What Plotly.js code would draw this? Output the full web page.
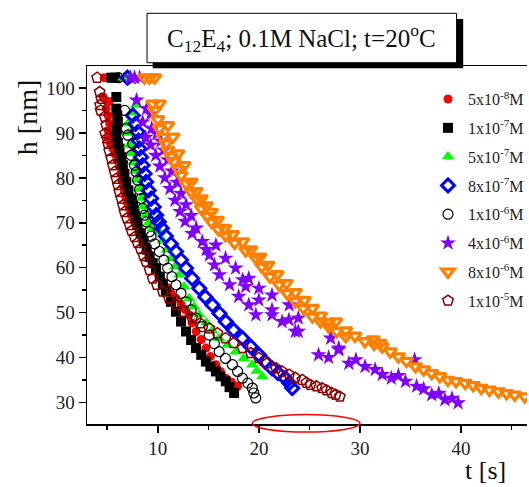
<!DOCTYPE html>
<html>
<head>
<meta charset="utf-8">
<script src="https://cdn.plot.ly/plotly-3.0.1.min.js"></script>
<style>html,body{margin:0;padding:0;background:#fff;}#chart{width:529px;height:487px;}</style>
</head>
<body>
<div id="chart"></div>
<script>
// series labels (legend)
const seriesLabels = ["5x10<sup>-8</sup>M","1x10<sup>-7</sup>M","5x10<sup>-7</sup>M","8x10<sup>-7</sup>M","1x10<sup>-6</sup>M","4x10<sup>-6</sup>M","8x10<sup>-6</sup>M","1x10<sup>-5</sup>M"];

// [t (s), h (nm)]
const c5e8 = [[4.7,102.3],[5.2,102.3],[4.6,98.0],[5.2,97.0],[4.9,95.4],[5.1,93.8],[5.24,92.1],[5.1,90.5],[5.07,89.1],[5.3,87.8],[5.56,86.5],[5.8,85.2],[6.0,83.9],[6.2,82.6],[6.35,81.0],[6.45,79.5],[6.6,78.2],[6.71,76.9],[6.85,75.6],[7.0,74.4],[7.2,73.2],[7.4,71.7],[7.7,70.2],[8.0,69.0],[8.36,68.0],[8.6,66.3],[8.9,64.6],[9.2,63.0],[9.5,61.3],[9.8,59.8],[10.1,58.3],[10.5,56.9],[10.9,55.6],[11.3,54.4],[11.8,53.2],[12.3,51.9],[12.7,50.7],[13.1,49.5],[13.4,47.7],[13.8,45.8],[14.3,44.0],[14.76,42.1],[15.2,40.2],[15.75,38.4],[16.2,36.9],[16.73,35.4],[17.3,34.5],[17.9,33.6]];
const c1e7 = [[5.4,102.3],[5.8,102.3],[5.9,98.0],[5.9,95.4],[6.0,93.9],[6.05,92.4],[5.95,90.8],[5.9,89.1],[6.05,87.8],[6.22,86.5],[6.4,84.6],[6.55,82.8],[6.7,80.9],[6.88,79.1],[7.1,77.2],[7.37,75.4],[7.55,73.9],[7.7,72.4],[7.85,71.0],[8.0,69.5],[8.3,67.6],[8.6,65.8],[8.9,64.0],[9.2,62.4],[9.5,61.0],[9.83,59.9],[10.2,58.0],[10.5,56.3],[10.8,54.7],[11.3,52.4],[11.8,50.2],[12.3,48.0],[12.79,45.8],[13.3,43.9],[13.78,42.1],[14.3,40.6],[14.76,39.1],[15.2,38.0],[15.75,36.9],[16.2,35.8],[16.73,34.7],[17.1,33.4],[17.55,32.1]];
const c5e7 = [[6.6,102.3],[6.9,102.3],[7.86,96.2],[7.6,94.5],[7.04,92.1],[7.1,90.0],[7.2,87.3],[7.4,85.5],[7.6,83.5],[7.8,81.5],[8.0,79.5],[8.2,77.5],[8.4,75.5],[8.6,73.6],[8.8,71.8],[9.1,70.0],[9.5,68.8],[10.16,68.0],[10.5,66.0],[10.9,64.0],[11.3,62.0],[11.7,60.2],[12.13,58.4],[12.6,55.8],[13.1,53.2],[13.6,51.3],[14.1,49.5],[14.8,47.8],[15.4,46.0],[16.07,44.3],[16.9,42.8],[17.7,41.3],[18.5,39.8],[19.35,38.4],[19.8,37.0],[20.34,35.8]];
const c8e7 = [[7.0,102.3],[7.53,93.9],[7.8,92.0],[8.02,90.2],[8.1,88.3],[8.19,86.5],[8.35,84.6],[8.5,82.8],[8.7,80.9],[8.85,79.1],[9.1,77.2],[9.34,75.4],[9.6,73.5],[9.84,71.7],[10.1,70.2],[10.4,68.8],[10.8,67.0],[11.3,65.3],[11.8,63.6],[12.3,61.7],[12.79,59.9],[13.4,57.6],[14.1,55.4],[14.7,53.5],[15.41,51.7],[16.1,49.8],[16.73,48.0],[17.5,46.1],[18.37,44.3],[19.2,42.4],[20.0,40.6],[20.6,39.1],[21.3,37.6],[21.9,36.5],[22.6,35.4],[23.0,34.3],[23.3,33.2]];
const c1e6 = [[6.1,102.3],[6.72,95.0],[6.88,91.0],[7.04,89.5],[7.53,87.6],[7.37,85.0],[7.7,82.8],[7.86,81.3],[8.0,79.5],[8.2,77.4],[8.36,75.4],[8.52,73.2],[8.7,71.7],[8.85,70.2],[9.18,68.0],[9.34,67.0],[9.7,65.3],[10.16,63.6],[10.6,61.7],[10.98,59.9],[11.4,58.0],[11.8,56.2],[12.3,54.3],[12.79,52.4],[13.3,50.6],[13.78,48.8],[14.4,46.9],[15.09,45.0],[15.6,43.1],[16.07,41.3],[16.7,39.8],[17.38,38.4],[17.9,36.9],[18.37,35.4],[18.9,34.3],[19.35,33.2],[19.5,32.1],[19.69,31.0]];
const c4e6 = [[7.3,102.3],[7.7,102.3],[8.2,102.3],[7.9,97.3],[8.9,95.4],[9.3,94.2],[8.5,92.4],[9.4,91.0],[9.9,89.8],[8.8,89.0],[10.3,88.2],[9.3,87.3],[10.6,86.2],[9.8,85.0],[11.0,84.0],[10.2,82.6],[11.4,81.5],[10.7,80.0],[11.9,79.0],[11.2,77.6],[12.3,76.5],[11.7,75.0],[12.8,74.0],[12.2,72.5],[13.3,71.6],[12.7,70.3],[13.8,68.8],[13.4,67.6],[14.4,65.8],[15.75,65.0],[14.8,64.0],[15.1,62.8],[16.7,62.1],[15.6,60.6],[17.7,59.9],[16.1,58.4],[19.0,57.6],[18.4,57.3],[17.1,56.2],[20.0,55.4],[18.7,55.8],[18.0,53.6],[21.3,53.9],[20.0,52.8],[19.0,51.7],[23.0,51.7],[21.3,50.6],[19.7,49.5],[21.3,49.5],[23.9,48.8],[22.97,48.4],[22.3,48.0],[23.6,45.8],[23.9,45.8],[27.1,44.3],[27.9,42.1],[25.9,40.6],[26.9,40.0],[27.9,41.7],[28.9,38.7],[29.6,39.5],[30.5,38.0],[31.5,37.3],[32.2,36.2],[33.1,35.4],[33.8,36.0],[34.5,34.7],[35.4,39.5],[35.6,33.6],[36.3,33.0],[37.1,31.7],[37.8,32.0],[38.4,30.6],[39.1,30.9],[39.7,29.9]];
const c8e6 = [[8.7,102.3],[9.2,102.3],[9.7,102.3],[9.5,96.5],[10.16,96.5],[9.67,95.0],[10.0,93.0],[10.16,91.0],[11.0,91.7],[10.5,89.1],[11.5,89.1],[10.8,87.6],[11.0,86.2],[12.0,85.4],[11.3,84.7],[11.6,83.6],[12.6,82.8],[12.0,82.0],[12.3,80.6],[13.3,79.1],[12.8,78.7],[13.3,76.9],[13.8,77.0],[14.3,75.4],[13.9,75.2],[14.3,73.2],[14.8,73.8],[15.3,72.4],[14.9,71.5],[15.3,70.2],[15.9,70.6],[16.6,68.8],[16.0,68.5],[16.7,67.2],[17.4,67.4],[17.6,65.5],[18.4,65.8],[18.7,63.8],[19.2,64.0],[19.7,62.1],[20.1,62.4],[20.3,60.2],[20.9,60.6],[21.1,58.0],[21.8,58.5],[22.0,56.2],[22.7,56.5],[22.8,54.3],[23.6,54.5],[23.6,52.5],[24.5,52.8],[24.4,51.0],[25.3,51.0],[25.3,49.1],[26.1,49.3],[26.1,48.0],[26.9,47.8],[27.6,48.0],[26.9,46.9],[27.7,45.8],[28.6,46.0],[28.6,44.7],[29.5,44.8],[30.5,43.6],[31.3,44.0],[31.4,43.0],[32.2,42.4],[32.0,43.2],[33.0,41.3],[33.8,40.2],[34.6,39.2],[35.5,38.0],[36.3,37.3],[37.1,36.5],[37.9,35.8],[38.7,35.0],[39.5,34.7],[40.4,34.3],[41.2,33.8],[42.0,33.2],[42.8,32.8],[43.7,32.4],[44.5,32.0],[45.3,31.7],[46.3,31.3]];
const c1e5 = [[4.0,102.3],[4.25,99.1],[4.42,97.6],[4.3,96.2],[4.35,95.0],[4.74,93.6],[4.9,91.7],[4.8,89.9],[5.0,88.8],[5.07,87.6],[5.2,86.0],[5.4,84.3],[5.55,82.8],[5.73,81.3],[5.9,79.8],[6.05,78.4],[6.2,76.9],[6.39,75.4],[6.55,73.9],[6.71,72.4],[6.95,71.0],[7.21,69.5],[7.4,68.2],[7.7,66.8],[8.0,65.5],[8.3,64.2],[8.6,62.6],[8.85,61.3],[9.2,59.5],[9.5,57.6],[9.9,56.2],[10.5,54.7],[11.1,53.2],[11.8,51.7],[12.6,50.2],[13.4,48.8],[14.2,47.6],[15.1,46.5],[15.9,45.4],[16.7,44.3],[17.5,43.2],[18.4,42.1],[19.2,41.0],[20.0,39.9],[20.8,38.7],[21.7,37.6],[22.3,36.9],[23.0,36.2],[23.6,35.5],[24.3,35.0],[24.7,34.4],[25.1,33.9],[25.7,33.6],[26.25,33.2],[26.7,32.7],[27.2,32.1],[27.6,31.7],[28.0,31.3]];

const seriesData = [c5e8, c1e7, c5e7, c8e7, c1e6, c4e6, c8e6, c1e5];

const styles = [
  {symbol:'circle', color:'#ff0000', size:9, line:{width:0}},
  {symbol:'square', color:'#000000', size:10, line:{width:0}},
  {symbol:'triangle-up', color:'#00ff00', size:11, line:{width:0}},
  {symbol:'diamond-open', color:'#0000ff', size:10, line:{width:3, color:'#0000ff'}},
  {symbol:'circle-open', color:'#000000', size:10, line:{width:1.2, color:'#000000'}},
  {symbol:'star', color:'#8000ff', size:12, line:{width:0}},
  {symbol:'triangle-down-open', color:'#ff8000', size:11, line:{width:3.2, color:'#ff8000'}},
  {symbol:'pentagon-open', color:'#8b0000', size:11, line:{width:1.5, color:'#8b0000'}}
];

const traces = seriesData.map((d, i) => ({
  type:'scatter', mode:'markers',
  x: d.map(p => p[0]), y: d.map(p => p[1]),
  name: seriesLabels[i], legendgroup:'g'+i,
  marker: styles[i], cliponaxis:true
}));

const serif = "'Liberation Serif', 'Times New Roman', serif";
const layout = {
  width:529, height:487,
  margin:{l:87, r:0, t:66, b:63},
  paper_bgcolor:'#ffffff', plot_bgcolor:'#ffffff',
  showlegend:true,
  legend:{x:0.775, y:0.955, xanchor:'left', yanchor:'top', bgcolor:'rgba(0,0,0,0)',
          font:{family:serif, size:16, color:'#222'}, tracegroupgap:5, itemwidth:30},
  xaxis:{range:[3,46.52], showgrid:false, zeroline:false, showline:true, linecolor:'#000', linewidth:1.5, mirror:true,
         ticks:'outside', tick0:0, dtick:10, ticklen:7, tickwidth:1.5, tickcolor:'#000',
         minor:{dtick:5, ticks:'outside', ticklen:4, tickwidth:1.5, tickcolor:'#000', showgrid:false},
         tickfont:{family:serif, size:19, color:'#222'}},
  yaxis:{range:[25.2,104.9], showgrid:false, zeroline:false, showline:true, linecolor:'#000', linewidth:1.5,
         ticks:'outside', tick0:0, dtick:10, ticklen:7, tickwidth:1.5, tickcolor:'#000',
         minor:{dtick:5, ticks:'outside', ticklen:4, tickwidth:1.5, tickcolor:'#000', showgrid:false},
         tickfont:{family:serif, size:19, color:'#222'}},
  shapes:[
    {type:'rect', xref:'paper', yref:'paper', x0:0.1493, x1:0.855, y0:0.9936, y1:1.1313, fillcolor:'#000', line:{width:0}},
    {type:'rect', xref:'paper', yref:'paper', x0:0.1364, x1:0.840, y0:1.0092, y1:1.1472, fillcolor:'#fff', line:{width:1, color:'#000'}},
    {type:'circle', xref:'x', yref:'paper', x0:19.35, x1:30.0, y0:-0.0226, y1:0.0263, line:{color:'#ff0000', width:1.5}}
  ],
  annotations:[
    {xref:'paper', yref:'paper', x:0.488, y:1.078, xanchor:'center', yanchor:'middle', showarrow:false,
     text:'C<sub>12</sub>E<sub>4</sub>; 0.1M NaCl; t=20<sup>o</sup>C', font:{family:serif, size:25, color:'#111'}},
    {xref:'paper', yref:'paper', x:-0.1335, y:0.855, xanchor:'center', yanchor:'middle', showarrow:false, textangle:-90,
     text:'h [nm]', font:{family:serif, size:28, color:'#111'}},
    {xref:'paper', yref:'paper', x:0.905, y:-0.131, xanchor:'center', yanchor:'middle', showarrow:false,
     text:'t [s]', font:{family:serif, size:26, color:'#111'}}
  ]
};

Plotly.newPlot('chart', traces, layout, {displayModeBar:false, staticPlot:true});
</script>
</body>
</html>
